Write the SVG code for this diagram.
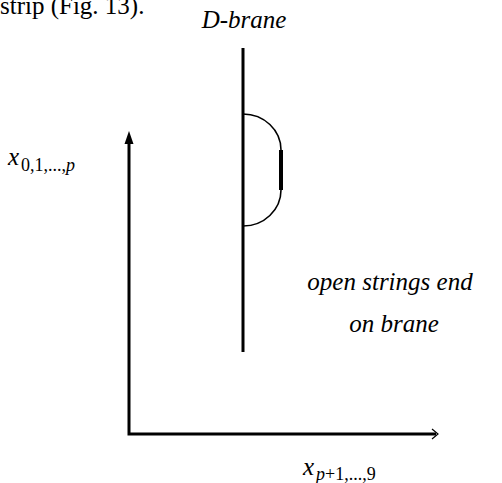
<svg xmlns="http://www.w3.org/2000/svg" width="502" height="483" viewBox="0 0 502 483">
<rect width="502" height="483" fill="#fff"/>
<text x="0" y="14" font-size="25" font-family="Liberation Serif">strip (Fig. 13).</text>
<g id="brane">
<line x1="243" y1="48" x2="243" y2="352" stroke="#000" stroke-width="3"/>
<text x="244" y="28" font-size="25" font-family="Liberation Serif" font-style="italic" text-anchor="middle">D-brane</text>
</g>
<g id="string">
<path fill="none" stroke="#000" stroke-width="1.6" d="M243,114 A38,36 0 0 1 281,150 L281,190 A38,36 0 0 1 243,226"/>
<line x1="281" y1="150" x2="281" y2="190" stroke="#000" stroke-width="4"/>
</g>
<g id="axes">
<path fill="none" stroke="#000" stroke-width="3" d="M129,140 L129,434 L436,434"/>
<path d="M129,131 L124.5,144 L133.5,144 Z" fill="#000"/>
<path fill="none" stroke="#000" stroke-width="1.2" d="M432,429 L438,434 L432,439"/>
</g>
<g id="labels">
<text x="8" y="165" font-size="25" font-family="Liberation Serif" font-style="italic">x</text>
<text x="21" y="171" font-size="18" font-family="Liberation Serif">0,1,...,<tspan font-style="italic">p</tspan></text>
<text x="303" y="475" font-size="25" font-family="Liberation Serif" font-style="italic">x</text>
<text x="316" y="480" font-size="18" font-family="Liberation Serif"><tspan font-style="italic">p</tspan>+1,...,9</text>
<text x="390" y="290" font-size="25" font-family="Liberation Serif" font-style="italic" text-anchor="middle">open strings end</text>
<text x="394" y="332" font-size="25" font-family="Liberation Serif" font-style="italic" text-anchor="middle">on brane</text>
</g>
</svg>
